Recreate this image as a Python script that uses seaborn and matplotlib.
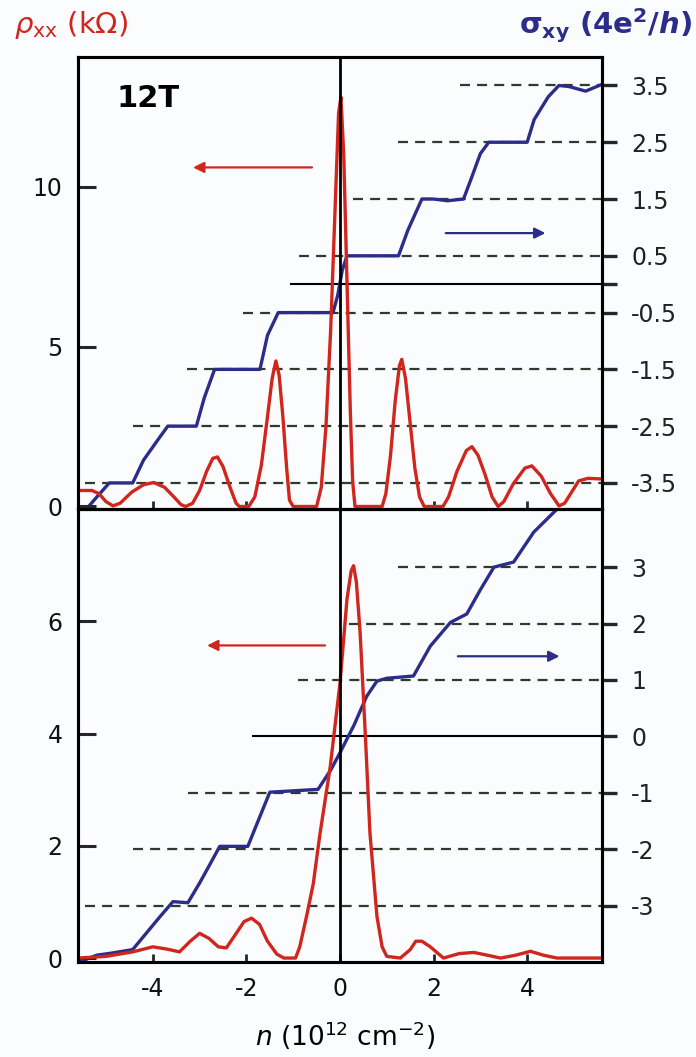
import numpy as np
import pandas as pd
import matplotlib
matplotlib.use("Agg")
import matplotlib.pyplot as plt
import seaborn as sns

# carrier density n (10^12 cm^-2) and readings, top panel (12 T)
top_rho_n = [-5.6, -5.3, -5.15, -5.0, -4.85, -4.7, -4.45, -4.2, -3.98, -3.75, -3.55, -3.4, -3.3,
             -3.15, -3.0, -2.85, -2.72, -2.62, -2.5, -2.35, -2.22, -2.15, -1.95, -1.82, -1.68,
             -1.55, -1.45, -1.37, -1.3, -1.22, -1.14, -1.08, -1.0, -0.5, -0.4, -0.3, -0.2, -0.1,
             -0.03, 0.02, 0.08, 0.15, 0.22, 0.27, 0.32, 0.9, 0.98, 1.08, 1.18, 1.27, 1.32, 1.4,
             1.5, 1.6, 1.7, 1.8, 2.2, 2.32, 2.5, 2.7, 2.82, 2.95, 3.1, 3.25, 3.38, 3.5, 3.7,
             3.95, 4.1, 4.3, 4.5, 4.68, 4.8, 4.95, 5.1, 5.3, 5.6]
top_rho = [0.5, 0.5, 0.4, 0.15, 0.02, 0.1, 0.45, 0.68, 0.75, 0.6, 0.3, 0.06, 0.0,
           0.1, 0.5, 1.1, 1.5, 1.55, 1.25, 0.6, 0.1, 0.0, 0.0, 0.3, 1.3,
           2.8, 4.0, 4.55, 4.1, 2.8, 1.2, 0.2, 0.0, 0.0, 0.6, 2.5, 5.5, 9.5,
           12.3, 12.8, 11.0, 7.0, 3.0, 0.8, 0.0, 0.0, 0.4, 1.6, 3.3, 4.4, 4.6, 4.0,
           2.6, 1.2, 0.3, 0.0, 0.0, 0.3, 1.1, 1.75, 1.87, 1.6, 1.0, 0.3, 0.0, 0.15, 0.7,
           1.2, 1.27, 0.95, 0.4, 0.02, 0.1, 0.45, 0.8, 0.88, 0.86]

top_sig_n = [-5.46, -5.2, -4.93, -4.43, -4.2, -3.9, -3.68, -3.07, -2.9, -2.68, -1.71, -1.55,
             -1.32, -0.15, -0.05, 0.05, 0.15, 1.25, 1.45, 1.75, 2.0, 2.3, 2.64, 2.8, 3.0,
             3.18, 4.0, 4.15, 4.45, 4.68, 4.9, 5.25, 5.6]
top_sig = [-4.0, -3.75, -3.5, -3.5, -3.1, -2.75, -2.5, -2.5, -2.0, -1.5, -1.5, -0.9,
           -0.5, -0.5, -0.2, 0.25, 0.5, 0.5, 0.95, 1.5, 1.5, 1.47, 1.5, 1.85, 2.3,
           2.5, 2.5, 2.9, 3.3, 3.5, 3.48, 3.4, 3.52]

# bottom panel
bot_rho_n = [-5.6, -5.0, -4.43, -4.0, -3.7, -3.43, -3.2, -3.0, -2.8, -2.6, -2.43, -2.25, -2.05,
             -1.89, -1.72, -1.55, -1.35, -1.2, -0.95, -0.86, -0.7, -0.57, -0.43, -0.21, 0.0,
             0.15, 0.24, 0.29, 0.35, 0.43, 0.54, 0.64, 0.79, 0.9, 1.0, 1.29, 1.5, 1.62, 1.75,
             1.93, 2.21, 2.55, 2.86, 3.15, 3.43, 3.75, 4.07, 4.35, 4.64, 5.6]
bot_rho = [0.0, 0.03, 0.11, 0.2, 0.16, 0.11, 0.3, 0.44, 0.35, 0.2, 0.18, 0.4, 0.65,
           0.71, 0.6, 0.3, 0.07, 0.0, 0.0, 0.2, 0.8, 1.33, 2.2, 3.4, 4.9,
           6.4, 6.9, 6.99, 6.7, 5.8, 4.0, 2.23, 0.74, 0.2, 0.03, 0.0, 0.15, 0.3, 0.3,
           0.2, 0.0, 0.08, 0.1, 0.05, 0.0, 0.05, 0.12, 0.05, 0.0, 0.0]

bot_sig_n = [-5.57, -5.2, -4.86, -4.43, -4.14, -3.85, -3.57, -3.25, -3.0, -2.8, -2.57, -1.97,
             -1.75, -1.5, -0.47, -0.2, 0.0, 0.3, 0.57, 0.79, 1.0, 1.57, 1.93, 2.36, 2.71,
             3.0, 3.29, 3.71, 4.14, 4.64, 4.8]
bot_sig = [-4.0, -3.88, -3.84, -3.78, -3.49, -3.2, -2.93, -2.95, -2.6, -2.3, -1.95, -1.95,
           -1.5, -0.99, -0.94, -0.6, -0.29, 0.2, 0.71, 0.98, 1.03, 1.07, 1.6, 2.02, 2.17,
           2.6, 3.0, 3.09, 3.62, 4.03, 4.2]

# guide lines: level and where the dashes start
top_levels = [3.5, 2.5, 1.5, 0.5, -0.5, -1.5, -2.5, -3.5]
top_starts = [2.57, 1.24, 0.28, -0.88, -2.08, -3.28, -4.43, -5.46]
bot_levels = [3, 2, 1, -1, -2, -3]
bot_starts = [1.24, 0.2, -0.9, -3.25, -4.43, -5.46]
top_zero_start = -1.07
bot_zero_start = -1.88

top_left_ticks = [0, 5, 10]
bot_left_ticks = [0, 2, 4, 6]
top_right_ticks = [-3.5, -2.5, -1.5, -0.5, 0, 0.5, 1.5, 2.5, 3.5]
top_right_labels = ['-3.5', '-2.5', '-1.5', '-0.5', '', '0.5', '1.5', '2.5', '3.5']
bot_right_ticks = [-3, -2, -1, 0, 1, 2, 3]
x_ticks = [-4, -2, 0, 2, 4]

RED = '#d0261e'
BLUE = '#2b2d88'
DASH = '#2f3a2f'
BG = '#fafcfd'

sns.set_style('ticks')
plt.rcParams['font.family'] = ['DejaVu Sans']
plt.rcParams['mathtext.fontset'] = 'dejavusans'
plt.rcParams['text.color'] = 'black'

fig = plt.figure(figsize=(6.96, 10.57), dpi=100, facecolor=BG)
L, R = 0.112, 0.865
ax1 = fig.add_axes([L, 0.5184, R - L, 0.946 - 0.5184])
ax2 = fig.add_axes([L, 0.0899, R - L, 0.5184 - 0.0899])
ax1r = ax1.twinx()
ax2r = ax2.twinx()

xlim = (-5.6, 5.6)


def draw_panel(ax, axr, rn, rv, sn, sv, levels, starts, zstart, ylim, rlim):
    ax.set_zorder(axr.get_zorder() + 1)
    ax.patch.set_visible(False)
    axr.set_facecolor(BG)
    for lv, st in zip(levels, starts):
        axr.hlines(lv, st, xlim[1], colors=DASH, linestyles=(0, (4.5, 3.2)), linewidth=1.6)
    axr.hlines(0, zstart, xlim[1], colors='black', linewidth=1.5)
    sns.lineplot(x=sn, y=sv, ax=axr, color=BLUE, linewidth=2.4, sort=False, estimator=None)
    sns.lineplot(x=rn, y=rv, ax=ax, color=RED, linewidth=2.4, sort=False, estimator=None)
    ax.axvline(0, color='black', linewidth=2.0)
    ax.set_xlim(*xlim)
    ax.set_ylim(*ylim)
    axr.set_ylim(*rlim)
    ax.set_xticks(x_ticks)
    ax.tick_params(axis='x', direction='in', length=6, width=2.0, labelsize=17, pad=11,
                   labelcolor='#111111')
    ax.tick_params(axis='y', direction='in', length=13, width=2.2, labelsize=17, pad=11,
                   labelcolor='#111111')
    axr.tick_params(axis='y', direction='out', length=11, width=2.4, labelsize=17, pad=10,
                    labelcolor='#222222')
    for a in (ax, axr):
        a.set_xlabel('')
        a.set_ylabel('')
        for s in a.spines.values():
            s.set_linewidth(2.2)
            s.set_color('black')


draw_panel(ax1, ax1r, top_rho_n, top_rho, top_sig_n, top_sig, top_levels, top_starts,
           top_zero_start, (-0.08, 14.05), (-3.96, 4.0))
draw_panel(ax2, ax2r, bot_rho_n, bot_rho, bot_sig_n, bot_sig, bot_levels, bot_starts,
           bot_zero_start, (-0.07, 8.0), (-4.0, 4.03))

ax1.set_yticks(top_left_ticks)
ax1.set_xticklabels([])
ax1r.set_yticks(top_right_ticks)
ax1r.set_yticklabels(top_right_labels)
ax2.set_yticks(bot_left_ticks)
ax2.set_xticklabels(['-4', '-2', '0', '2', '4'])
ax2r.set_yticks(bot_right_ticks)
ax2r.set_yticklabels([str(t) for t in bot_right_ticks])

# direction arrows
ax1.annotate('', xy=(-3.2, 10.6), xytext=(-0.54, 10.6),
             arrowprops=dict(arrowstyle='-|>', color=RED, lw=1.6, mutation_scale=16))
ax1r.annotate('', xy=(4.45, 0.9), xytext=(2.2, 0.9),
              arrowprops=dict(arrowstyle='-|>', color=BLUE, lw=1.6, mutation_scale=16))
ax2.annotate('', xy=(-2.9, 5.57), xytext=(-0.26, 5.57),
             arrowprops=dict(arrowstyle='-|>', color=RED, lw=1.6, mutation_scale=16))
ax2r.annotate('', xy=(4.75, 1.42), xytext=(2.46, 1.42),
              arrowprops=dict(arrowstyle='-|>', color=BLUE, lw=1.6, mutation_scale=16))

ax1.text(-4.78, 12.75, '12T', fontsize=22, fontweight='bold', color='black',
         ha='left', va='center')

fig.text(0.02, 0.976, r'$\rho_{\mathrm{xx}}$ (k$\Omega$)', color=RED, fontsize=21,
         ha='left', va='center')
fig.text(0.994, 0.976, r'$\mathbf{\sigma_{xy}}$ (4e$^{\mathbf{2}}$/$\mathbfit{h}$)', color=BLUE,
         fontsize=21, fontweight='bold', ha='right', va='center')
fig.text(0.496, 0.02, r'$n$ (10$^{12}$ cm$^{-2}$)', fontsize=19, color='black',
         ha='center', va='center')

fig.savefig('out.png', dpi=100, facecolor=fig.get_facecolor())
